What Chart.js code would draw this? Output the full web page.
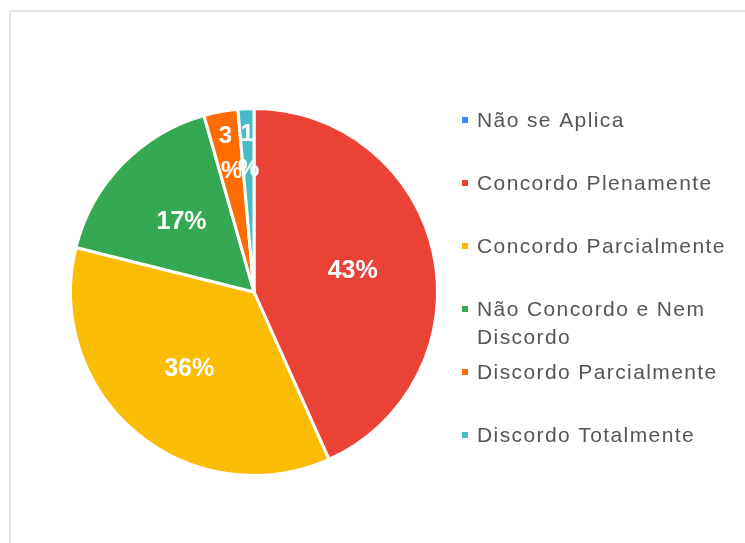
<!DOCTYPE html>
<html>
<head>
<meta charset="utf-8">
<script src="https://cdn.jsdelivr.net/npm/chart.js@4/dist/chart.umd.min.js"></script>
<style>
  html, body { margin: 0; padding: 0; background: #fff; }
  #wrap { position: relative; width: 745px; height: 543px; overflow: hidden; }
  #frame {
    position: absolute; left: 9px; top: 10px; right: -4px; bottom: -4px;
    border-top: 2px solid #e6e6e6; border-left: 2px solid #e6e6e6;
  }
  #chart { position: absolute; left: 0; top: 0; }
</style>
</head>
<body>
<div id="wrap">
  <div id="frame"></div>
  <canvas id="chart" width="745" height="543"></canvas>
</div>
<script>
// answers, in the order the slices run clockwise from 12 o'clock
const categories = [
  "Não se Aplica",
  "Concordo Plenamente",
  "Concordo Parcialmente",
  "Não Concordo e Nem Discordo",
  "Discordo Parcialmente",
  "Discordo Totalmente"
]
// share of answers, in %
const shares = [0, 43.3, 35.6, 16.7, 3.0, 1.4]
const sliceColors = ["#4285f4", "#ea4335", "#fbbc04", "#34a853", "#ff6d01", "#46bdc6"]

// percent labels drawn inside the slices
const sliceLabels = {
  id: 'sliceLabels',
  afterDatasetsDraw(chart) {
    const ctx = chart.ctx
    const meta = chart.getDatasetMeta(0)
    const values = chart.data.datasets[0].data
    const total = values.reduce((a, b) => a + b, 0)
    ctx.save()
    ctx.fillStyle = '#ffffff'
    ctx.font = 'bold 25px "Liberation Sans", Arial, sans-serif'
    ctx.textAlign = 'center'
    ctx.textBaseline = 'middle'
    meta.data.forEach((arc, i) => {
      if (!values[i]) return
      const p = arc.getProps(['x', 'y', 'startAngle', 'endAngle', 'outerRadius'], true)
      const mid = (p.startAngle + p.endAngle) / 2
      const pct = Math.round(values[i] / total * 100)
      const at = f => [p.x + Math.cos(mid) * p.outerRadius * f, p.y + Math.sin(mid) * p.outerRadius * f]
      if (pct < 10) {
        // thin slice: number and % sign wrap onto two lines along the radius
        ctx.font = 'bold 24px "Liberation Sans", Arial, sans-serif'
        let [x1, y1] = at(0.86)
        let [x2, y2] = at(0.67)
        ctx.fillText(String(pct), x1, y1)
        ctx.fillText('%', x2, y2)
      } else {
        ctx.font = 'bold 25px "Liberation Sans", Arial, sans-serif'
        let [x, y] = at(0.55)
        ctx.fillText(pct + '%', x, y)
      }
    })
    ctx.restore()
  }
}

// legend on the right with small square markers and wrapped text
const sideLegend = {
  id: 'sideLegend',
  afterDraw(chart) {
    const ctx = chart.ctx
    const colors = chart.data.datasets[0].backgroundColor
    ctx.save()
    ctx.font = '21px "Liberation Sans", Arial, sans-serif'
    ctx.letterSpacing = '1.4px'
    ctx.textBaseline = 'alphabetic'
    ctx.textAlign = 'left'
    const maxW = 262
    chart.data.labels.forEach((label, i) => {
      const y = 120 + i * 63
      ctx.fillStyle = colors[i]
      ctx.fillRect(462, y - 3, 6, 6)
      // wrap words that do not fit
      let lines = [], line = ''
      label.split(' ').forEach(w => {
        const test = line ? line + ' ' + w : w
        if (line && ctx.measureText(test).width > maxW) {
          lines.push(line)
          line = w
        } else {
          line = test
        }
      })
      lines.push(line)
      ctx.fillStyle = '#555555'
      lines.forEach((t, k) => ctx.fillText(t, 477, y + 7 + k * 28))
    })
    ctx.restore()
  }
}

let ctx = document.getElementById('chart').getContext('2d')
let chart = new Chart(ctx, {
  type: 'pie',
  data: {
    labels: categories,
    datasets: [{
      data: shares,
      backgroundColor: sliceColors,
      borderColor: '#ffffff',
      borderWidth: 3
    }]
  },
  options: {
    responsive: false,
    animation: false,
    devicePixelRatio: 1,
    layout: { padding: { left: 69, right: 306, top: 107, bottom: 66 } },
    plugins: {
      legend: { display: false },
      tooltip: { enabled: false }
    }
  },
  plugins: [sliceLabels, sideLegend]
})
</script>
</body>
</html>
